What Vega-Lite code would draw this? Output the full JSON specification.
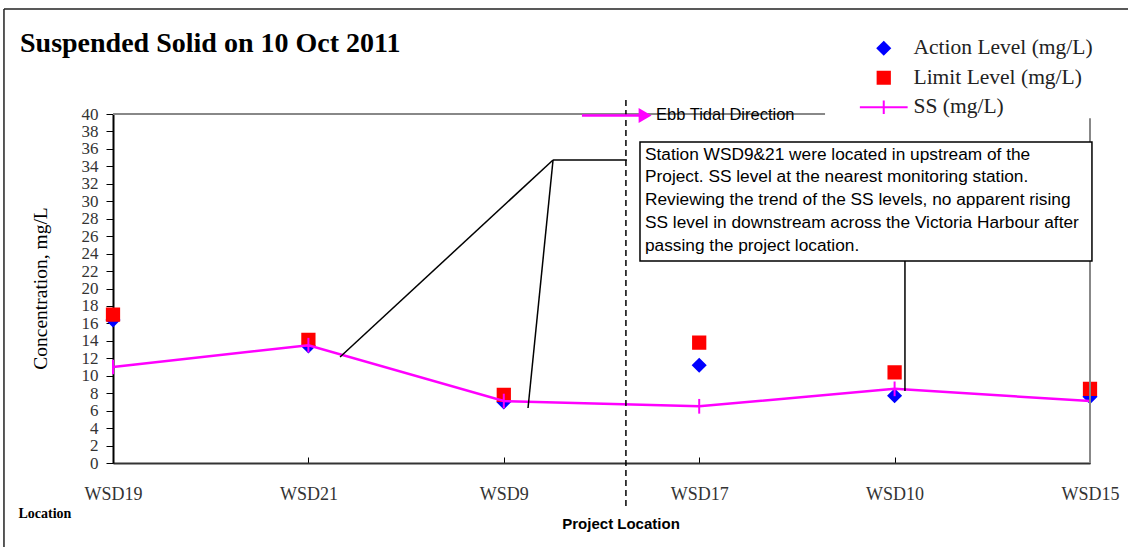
{
  "$schema": "https://vega.github.io/schema/vega-lite/v6.json",
  "width": 977,
  "height": 349,
  "autosize": {"type": "none"},
  "padding": {"left": 113, "top": 114, "right": 38, "bottom": 84},
  "background": "white",
  "config": {"view": {"stroke": null}},
  "datasets": {
    "ss": [
      {"station": "WSD19", "series": "Action Level (mg/L)", "value": 16.4},
      {"station": "WSD21", "series": "Action Level (mg/L)", "value": 13.4},
      {"station": "WSD9", "series": "Action Level (mg/L)", "value": 7.0},
      {"station": "WSD17", "series": "Action Level (mg/L)", "value": 11.2},
      {"station": "WSD10", "series": "Action Level (mg/L)", "value": 7.7},
      {"station": "WSD15", "series": "Action Level (mg/L)", "value": 7.6},
      {"station": "WSD19", "series": "Limit Level (mg/L)", "value": 17.0},
      {"station": "WSD21", "series": "Limit Level (mg/L)", "value": 14.1},
      {"station": "WSD9", "series": "Limit Level (mg/L)", "value": 7.8},
      {"station": "WSD17", "series": "Limit Level (mg/L)", "value": 13.8},
      {"station": "WSD10", "series": "Limit Level (mg/L)", "value": 10.4},
      {"station": "WSD15", "series": "Limit Level (mg/L)", "value": 8.5},
      {"station": "WSD19", "series": "SS (mg/L)", "value": 11.0},
      {"station": "WSD21", "series": "SS (mg/L)", "value": 13.5},
      {"station": "WSD9", "series": "SS (mg/L)", "value": 7.1},
      {"station": "WSD17", "series": "SS (mg/L)", "value": 6.5},
      {"station": "WSD10", "series": "SS (mg/L)", "value": 8.5},
      {"station": "WSD15", "series": "SS (mg/L)", "value": 7.1}
    ],
    "segments": [
      {"kind": "frame", "x": -0.558, "y": 52.03, "x2": 5.4, "y2": 52.03},
      {"kind": "frame", "x": -0.558, "y": 52.03, "x2": -0.558, "y2": -12},
      {"kind": "border", "x": 0, "y": 40, "x2": 3.644, "y2": 40},
      {"kind": "border", "x": 5, "y": 39.5, "x2": 5, "y2": 0},
      {"kind": "callout", "x": 1.162, "y": 12.15, "x2": 2.252, "y2": 34.73},
      {"kind": "callout", "x": 2.252, "y": 34.73, "x2": 2.63, "y2": 34.73},
      {"kind": "callout", "x": 2.252, "y": 34.73, "x2": 2.124, "y2": 6.3},
      {"kind": "callout", "x": 4.053, "y": 23.15, "x2": 4.053, "y2": 8.25},
      {"kind": "project", "x": 2.625, "y": 41.6, "x2": 2.625, "y2": -5.4},
      {"kind": "arrow", "x": 2.4, "y": 39.83, "x2": 2.7, "y2": 39.83}
    ],
    "box": [
      {"x": 2.697, "y": 36.79, "x2": 5.01, "y2": 23.15,
       "text": ["Station WSD9&21 were located in upstream of the", "Project. SS level at the nearest monitoring station.", "Reviewing the trend of the SS levels, no apparent rising", "SS level in downstream across the Victoria Harbour after", "passing the project location."]}
    ],
    "labels": [
      {"kind": "title", "x": -0.476, "y": 47.1, "text": "Suspended Solid on 10 Oct 2011"},
      {"kind": "ebb", "x": 2.779, "y": 39.85, "text": "Ebb Tidal Direction"},
      {"kind": "project", "x": 2.6, "y": -6.99, "text": "Project Location"}
    ],
    "heads": [
      {"x": 2.723, "y": 39.83}
    ]
  },
  "layer": [
    {
      "data": {"name": "ss"},
      "encoding": {
        "x": {
          "field": "station",
          "type": "ordinal",
          "scale": {"type": "point", "padding": 0, "domain": ["WSD19", "WSD21", "WSD9", "WSD17", "WSD10", "WSD15"]},
          "axis": {
            "title": "Location",
            "titleFont": "Liberation Serif",
            "titleFontSize": 14,
            "titleFontWeight": "bold",
            "titleColor": "#000000",
            "titleX": -95,
            "titleY": 54,
            "titleAlign": "left",
            "titleBaseline": "alphabetic",
            "labelFont": "Liberation Serif",
            "labelFontSize": 18,
            "labelColor": "#333333",
            "labelPadding": 28,
            "labelAngle": 0,
            "labelOverlap": false,
            "tickSize": -6,
            "tickColor": "#000000",
            "domainColor": "#333333",
            "domainWidth": 2,
            "grid": false
          }
        },
        "y": {
          "field": "value",
          "type": "quantitative",
          "scale": {"domain": [0, 40], "nice": false},
          "axis": {
            "title": "Concentration, mg/L",
            "titleFont": "Liberation Serif",
            "titleFontSize": 19.5,
            "titleFontWeight": "normal",
            "titleColor": "#000000",
            "titleX": -73,
            "titleY": 174,
            "titleAngle": -90,
            "titleAlign": "center",
            "titleBaseline": "middle",
            "values": [0, 2, 4, 6, 8, 10, 12, 14, 16, 18, 20, 22, 24, 26, 28, 30, 32, 34, 36, 38, 40],
            "labelFont": "Liberation Serif",
            "labelFontSize": 17,
            "labelColor": "#333333",
            "labelPadding": 8,
            "labelOverlap": false,
            "labelFlush": false,
            "tickSize": 7,
            "tickColor": "#000000",
            "domainColor": "#000000",
            "domainWidth": 2,
            "grid": false
          }
        }
      },
      "layer": [
        {
          "transform": [{"filter": "datum.series !== 'SS (mg/L)'"}],
          "mark": {"type": "point", "filled": true, "size": 150, "strokeWidth": 2, "opacity": 1},
          "encoding": {
            "fill": {
              "field": "series", "type": "nominal",
              "scale": {"domain": ["Action Level (mg/L)", "Limit Level (mg/L)", "SS (mg/L)"], "range": ["#0000FF", "#FF0000", "#FF00FF"]},
              "legend": {
                "orient": "none", "legendX": 760, "legendY": -76.5, "padding": 0, "title": null,
                "labelFont": "Liberation Serif", "labelFontSize": 21.5, "labelColor": "#222222",
                "labelOffset": 19, "labelLimit": 400, "symbolSize": 150, "symbolStrokeWidth": 2,
                "rowPadding": 6.5
              }
            },
            "stroke": {
              "field": "series", "type": "nominal",
              "scale": {"domain": ["Action Level (mg/L)", "Limit Level (mg/L)", "SS (mg/L)"], "range": ["#0000FF", "#FF0000", "#FF00FF"]},
              "legend": {
                "orient": "none", "legendX": 760, "legendY": -76.5, "padding": 0, "title": null,
                "labelFont": "Liberation Serif", "labelFontSize": 21.5, "labelColor": "#222222",
                "labelOffset": 19, "labelLimit": 400, "symbolSize": 150, "symbolStrokeWidth": 2,
                "rowPadding": 6.5
              }
            },
            "shape": {
              "field": "series", "type": "nominal",
              "scale": {"domain": ["Action Level (mg/L)", "Limit Level (mg/L)", "SS (mg/L)"], "range": ["diamond", "square", "M-3.9,0H3.9M0,-1.1V1.1"]},
              "legend": {
                "orient": "none", "legendX": 760, "legendY": -76.5, "padding": 0, "title": null,
                "labelFont": "Liberation Serif", "labelFontSize": 21.5, "labelColor": "#222222",
                "labelOffset": 19, "labelLimit": 400, "symbolSize": 150, "symbolStrokeWidth": 2,
                "rowPadding": 6.5
              }
            }
          }
        },
        {
          "transform": [{"filter": "datum.series === 'SS (mg/L)'"}],
          "mark": {"type": "line", "color": "#FF00FF", "strokeWidth": 2.5}
        },
        {
          "transform": [{"filter": "datum.series === 'SS (mg/L)'"}],
          "mark": {"type": "point", "shape": "M0,-1.2V1.2", "size": 150, "stroke": "#FF00FF", "strokeWidth": 2, "opacity": 1, "filled": false}
        }
      ]
    },
    {
      "layer": [
        {
          "data": {"name": "segments"},
          "transform": [{"filter": "datum.kind === 'frame'"}],
          "mark": {"type": "rule", "color": "#222222", "strokeWidth": 1.5},
          "encoding": {
            "x": {"field": "x", "type": "quantitative", "scale": {"domain": [0, 5], "nice": false, "zero": false}, "axis": null},
            "x2": {"field": "x2"},
            "y": {"field": "y", "type": "quantitative", "axis": null},
            "y2": {"field": "y2"}
          }
        },
        {
          "data": {"name": "segments"},
          "transform": [{"filter": "datum.kind === 'border'"}],
          "mark": {"type": "rule", "color": "#888888", "strokeWidth": 2},
          "encoding": {
            "x": {"field": "x", "type": "quantitative", "axis": null},
            "x2": {"field": "x2"},
            "y": {"field": "y", "type": "quantitative", "axis": null},
            "y2": {"field": "y2"}
          }
        },
        {
          "data": {"name": "segments"},
          "transform": [{"filter": "datum.kind === 'callout'"}],
          "mark": {"type": "rule", "color": "#000000", "strokeWidth": 1.5},
          "encoding": {
            "x": {"field": "x", "type": "quantitative", "axis": null},
            "x2": {"field": "x2"},
            "y": {"field": "y", "type": "quantitative", "axis": null},
            "y2": {"field": "y2"}
          }
        },
        {
          "data": {"name": "segments"},
          "transform": [{"filter": "datum.kind === 'project'"}],
          "mark": {"type": "rule", "color": "#000000", "strokeWidth": 1.5, "strokeDash": [6, 4]},
          "encoding": {
            "x": {"field": "x", "type": "quantitative", "axis": null},
            "x2": {"field": "x2"},
            "y": {"field": "y", "type": "quantitative", "axis": null},
            "y2": {"field": "y2"}
          }
        },
        {
          "data": {"name": "segments"},
          "transform": [{"filter": "datum.kind === 'arrow'"}],
          "mark": {"type": "rule", "color": "#FF00FF", "strokeWidth": 2.5},
          "encoding": {
            "x": {"field": "x", "type": "quantitative", "axis": null},
            "x2": {"field": "x2"},
            "y": {"field": "y", "type": "quantitative", "axis": null},
            "y2": {"field": "y2"}
          }
        },
        {
          "data": {"name": "heads"},
          "mark": {"type": "point", "shape": "triangle-right", "size": 220, "filled": true, "color": "#FF00FF", "opacity": 1},
          "encoding": {
            "x": {"field": "x", "type": "quantitative", "axis": null},
            "y": {"field": "y", "type": "quantitative", "axis": null}
          }
        },
        {
          "data": {"name": "box"},
          "mark": {"type": "rect", "fill": "#FFFFFF", "stroke": "#000000", "strokeWidth": 1.5},
          "encoding": {
            "x": {"field": "x", "type": "quantitative", "axis": null},
            "x2": {"field": "x2"},
            "y": {"field": "y", "type": "quantitative", "axis": null},
            "y2": {"field": "y2"}
          }
        },
        {
          "data": {"name": "box"},
          "mark": {"type": "text", "align": "left", "baseline": "middle", "font": "Liberation Sans", "fontSize": 17.3, "lineHeight": 22.9, "color": "#000000", "dx": 5, "dy": 12.5},
          "encoding": {
            "x": {"field": "x", "type": "quantitative", "axis": null},
            "y": {"field": "y", "type": "quantitative", "axis": null},
            "text": {"field": "text"}
          }
        },
        {
          "data": {"name": "labels"},
          "transform": [{"filter": "datum.kind === 'title'"}],
          "mark": {"type": "text", "align": "left", "baseline": "alphabetic", "font": "Liberation Serif", "fontSize": 28, "fontWeight": "bold", "color": "#000000"},
          "encoding": {
            "x": {"field": "x", "type": "quantitative", "axis": null},
            "y": {"field": "y", "type": "quantitative", "axis": null},
            "text": {"field": "text"}
          }
        },
        {
          "data": {"name": "labels"},
          "transform": [{"filter": "datum.kind === 'ebb'"}],
          "mark": {"type": "text", "align": "left", "baseline": "middle", "font": "Liberation Sans", "fontSize": 16.5, "color": "#000000"},
          "encoding": {
            "x": {"field": "x", "type": "quantitative", "axis": null},
            "y": {"field": "y", "type": "quantitative", "axis": null},
            "text": {"field": "text"}
          }
        },
        {
          "data": {"name": "labels"},
          "transform": [{"filter": "datum.kind === 'project'"}],
          "mark": {"type": "text", "align": "center", "baseline": "middle", "font": "Liberation Sans", "fontSize": 15, "fontWeight": "bold", "color": "#000000"},
          "encoding": {
            "x": {"field": "x", "type": "quantitative", "axis": null},
            "y": {"field": "y", "type": "quantitative", "axis": null},
            "text": {"field": "text"}
          }
        }
      ]
    }
  ],
  "resolve": {"scale": {"x": "independent"}, "axis": {"y": "independent"}}
}
